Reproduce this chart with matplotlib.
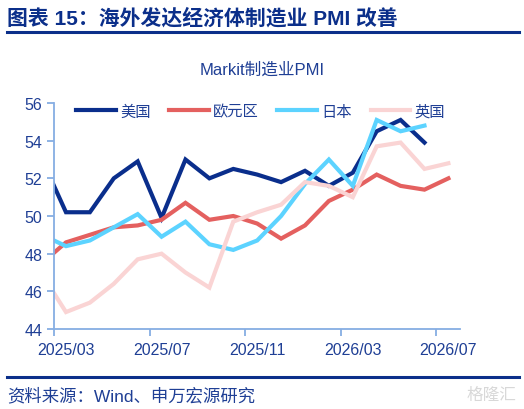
# Markit manufacturing PMI, overseas developed economies

import matplotlib
matplotlib.use("Agg")
import matplotlib.pyplot as plt
import numpy as np

# data (monthly)
months = ['2025/02', '2025/03', '2025/04', '2025/05', '2025/06', '2025/07', '2025/08',
          '2025/09', '2025/10', '2025/11', '2025/12', '2026/01', '2026/02', '2026/03',
          '2026/04', '2026/05', '2026/06', '2026/07']
us = [53.0, 50.2, 50.2, 52.0, 52.9, 49.9, 53.0, 52.0, 52.5, 52.2, 51.8, 52.4,
      51.6, 52.3, 54.5, 55.1, 53.9, np.nan]
euro = [47.5, 48.6, 49.0, 49.4, 49.5, 49.8, 50.7, 49.8, 50.0, 49.6, 48.8, 49.5,
        50.8, 51.4, 52.2, 51.6, 51.4, 52.0]
japan = [49.0, 48.4, 48.7, 49.4, 50.1, 48.9, 49.7, 48.5, 48.2, 48.7, 50.0, 51.7,
         53.0, 51.6, 55.1, 54.5, 54.8, np.nan]
uk = [46.9, 44.9, 45.4, 46.4, 47.7, 48.0, 47.0, 46.2, 49.7, 50.2, 50.6, 51.8,
      51.6, 51.0, 53.7, 53.9, 52.5, 52.8]
names = ['美国', '欧元区', '日本', '英国']
tick_months = ['2025/03', '2025/07', '2025/11', '2026/03', '2026/07']

NAVY = '#0B2F8A'
TXT = '#1F3F95'
AXC = '#86AEE3'
colors = ['#0A2E8C', '#E4605F', '#5CD3FF', '#FAD4D4']
FAM = ['Liberation Sans', 'Noto Sans CJK SC', 'DejaVu Sans']
plt.rcParams['font.family'] = FAM

fig = plt.figure(figsize=(5.24, 4.10), dpi=100)
ax = fig.add_axes([0.1031, 0.1951, 0.7754, 0.5512])

# each month sits in the middle of its slot, ticks mark slot starts
pos = np.arange(len(months)) - 0.5
for vals, name, c in zip([us, euro, japan, uk], names, colors):
    ax.plot(pos, vals, color=c, lw=3, label=name, solid_joinstyle='miter')

ax.set_xlim(0, 17)
ax.set_ylim(44, 56)
ax.set_yticks(np.arange(44, 57, 2))
tick_idx = np.array([months.index(m) for m in tick_months])
ax.set_xticks(tick_idx - 1)
ax.set_xticklabels([])
# labels centred on the month slot
ax.set_xticks(tick_idx - 0.5, minor=True)
ax.set_xticklabels(tick_months, minor=True)

for s in ['top', 'right']:
    ax.spines[s].set_visible(False)
for s in ['left', 'bottom']:
    ax.spines[s].set_color(AXC)
    ax.spines[s].set_linewidth(1.3)
ax.tick_params(axis='both', colors=AXC, labelcolor=TXT, labelsize=11.5,
               length=5, width=1.3, direction='out')
ax.tick_params(axis='x', which='minor', length=0, pad=9, labelsize=11.5,
               labelcolor=TXT)

ax.legend(loc='upper left', bbox_to_anchor=(0.02, 1.055), ncol=4, frameon=False,
          handlelength=2.6, columnspacing=1.2, handletextpad=0.3,
          prop={'family': FAM, 'size': 11}, labelcolor=TXT)

fig.text(0.5, 0.828, 'Markit制造业PMI', ha='center', va='center',
         fontsize=12, color=TXT, family=FAM)

# header and footer
fig.text(0.014, 0.956, '图表 15：海外发达经济体制造业 PMI 改善', ha='left', va='center',
         fontsize=15, fontweight='bold', color=NAVY, family=FAM)
fig.add_artist(plt.Line2D([0.013, 0.99], [0.919, 0.919], color=NAVY, lw=2.2))
fig.add_artist(plt.Line2D([0.013, 0.99], [0.078, 0.078], color=NAVY, lw=2.2))
fig.text(0.014, 0.035, '资料来源：Wind、申万宏源研究', ha='left', va='center',
         fontsize=12.5, color=TXT, family=FAM)
fig.text(0.985, 0.035, '格隆汇', ha='right', va='center',
         fontsize=12, color='#D8D8D8', family=FAM)

fig.savefig('out.png', dpi=100)
